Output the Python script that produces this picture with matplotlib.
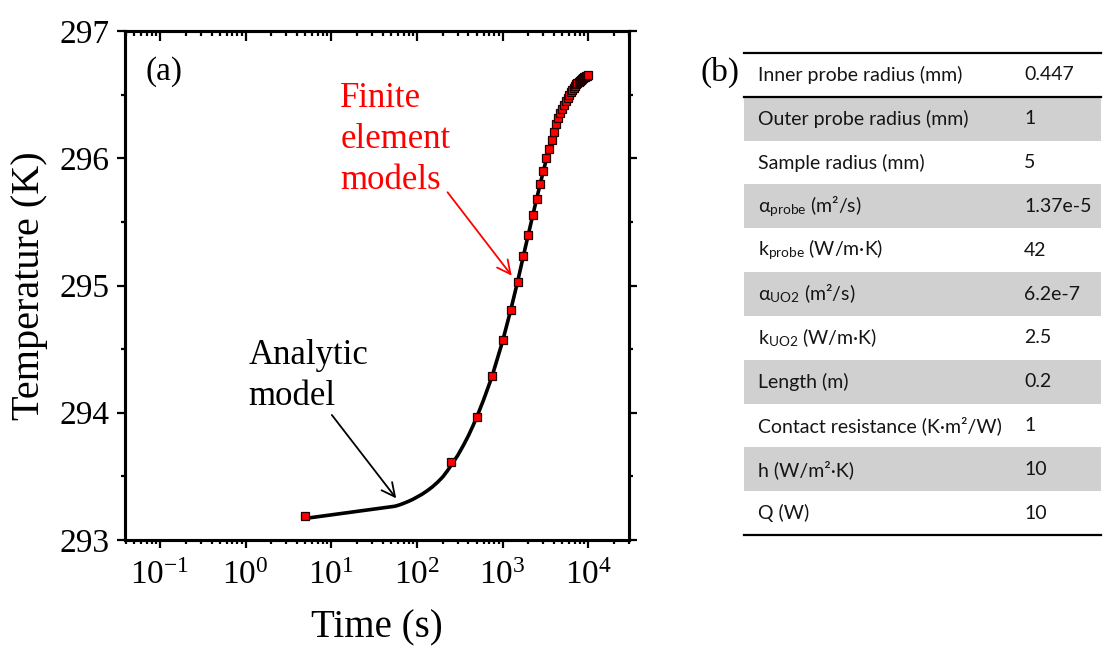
import matplotlib.pyplot as plt
from matplotlib.ticker import MultipleLocator, LogLocator, NullFormatter
from matplotlib.patches import Rectangle

plt.rcParams['font.family'] = 'Liberation Serif'
plt.rcParams['mathtext.fontset'] = 'custom'
plt.rcParams['mathtext.rm'] = 'Liberation Serif'
plt.rcParams['mathtext.it'] = 'Liberation Serif:italic'
plt.rcParams['axes.unicode_minus'] = False

# analytic model
an_time = [5, 55, 60, 65, 70, 80, 90, 100, 115, 130, 150, 175, 200, 225, 250, 300, 350,
           400, 450, 500, 600, 750, 875, 1000, 1250, 1500, 1750, 2000, 2500, 3000, 3500,
           4000, 5000, 6000, 7000, 8000, 9000, 10000]
an_temp = [293.17, 293.265, 293.272, 293.28, 293.288, 293.304, 293.32, 293.337, 293.36,
           293.384, 293.415, 293.455, 293.495, 293.54, 293.585, 293.665, 293.745, 293.82,
           293.895, 293.965, 294.10, 294.28, 294.43, 294.56, 294.81, 295.03, 295.23,
           295.40, 295.68, 295.90, 296.075, 296.21, 296.39, 296.495, 296.57, 296.61,
           296.635, 296.655]

# finite element results
fe_time = [5, 250, 500, 750, 1000, 1250, 1500, 1750, 2000, 2250, 2500, 2750, 3000, 3250,
           3500, 3750, 4000, 4250, 4500, 4750, 5000, 5250, 5500, 5750, 6000, 6250, 6500,
           6750, 7000, 7250, 7500, 7750, 8000, 8250, 8500, 8750, 9000, 9250, 9500, 9750, 10000]
fe_temp = [293.19, 293.61, 293.967, 294.29, 294.57, 294.81, 295.03, 295.23, 295.40, 295.557,
           295.68, 295.80, 295.90, 296.00, 296.075, 296.14, 296.21, 296.27, 296.32, 296.355,
           296.39, 296.42, 296.447, 296.47, 296.495, 296.52, 296.54, 296.555, 296.57, 296.58,
           296.59, 296.60, 296.61, 296.618, 296.625, 296.63, 296.635, 296.64, 296.645,
           296.65, 296.655]

# table (b)
param_names = ['Inner probe radius (mm)', 'Outer probe radius (mm)', 'Sample radius (mm)',
               'α$_{\\mathregular{probe}}$ (m²/s)', 'k$_{\\mathregular{probe}}$ (W/m·K)',
               'α$_{\\mathregular{UO2}}$ (m²/s)', 'k$_{\\mathregular{UO2}}$ (W/m·K)',
               'Length (m)', 'Contact resistance (K·m²/W)', 'h (W/m²·K)', 'Q (W)']
param_values = ['0.447', '1', '5', '1.37e-5', '42', '6.2e-7', '2.5', '0.2', '1', '10', '10']

W, H = 1103, 649
fig = plt.figure(figsize=(W / 100, H / 100), dpi=100)

ax = fig.add_axes([125 / W, 1 - 540 / H, (629 - 125) / W, (540 - 31) / H])
ax.plot(an_time, an_temp, color='black', lw=2.6, zorder=2)
ax.plot(fe_time, fe_temp, ls='none', marker='s', ms=6, mfc='red', mec='#200000',
        mew=0.9, zorder=3)

ax.set_xscale('log')
ax.set_xlim(0.039, 30000)
ax.set_ylim(293, 297)
ax.set_yticks([293, 294, 295, 296, 297])
ax.yaxis.set_minor_locator(MultipleLocator(0.5))
ax.xaxis.set_major_locator(LogLocator(base=10, numticks=12))
ax.xaxis.set_minor_locator(LogLocator(base=10, subs=range(2, 10), numticks=12))
ax.xaxis.set_minor_formatter(NullFormatter())

for s in ax.spines.values():
    s.set_linewidth(2.2)
ax.tick_params(which='both', direction='out', right=True, width=1.6, labelsize=24)
ax.tick_params(axis='y', pad=5)
ax.tick_params(axis='x', pad=9)
ax.tick_params(which='major', length=6)
ax.tick_params(which='minor', length=3)

# top axis ticks point inward
axt = ax.twiny()
axt.set_xscale('log')
axt.set_xlim(ax.get_xlim())
axt.xaxis.set_major_locator(LogLocator(base=10, numticks=12))
axt.xaxis.set_minor_locator(LogLocator(base=10, subs=range(2, 10), numticks=12))
axt.tick_params(which='both', direction='in', labeltop=False, width=1.6)
axt.tick_params(which='major', length=7)
axt.tick_params(which='minor', length=3.5)
for s in axt.spines.values():
    s.set_linewidth(2.2)

ax.set_xlabel('Time (s)', fontsize=28, labelpad=13)
ax.set_ylabel('Temperature (K)', fontsize=29, labelpad=8)

ax.text(0.067, 296.80, '(a)', fontsize=24, va='top', ha='left')
ax.text(12.8, 296.60, 'Finite\nelement\nmodels', fontsize=25, color='red', va='top',
        ha='left', linespacing=1.32)
ax.text(1.08, 294.58, 'Analytic\nmodel', fontsize=25, color='black', va='top',
        ha='left', linespacing=1.32)
ax.annotate('', xy=(1340, 295.06), xytext=(218, 295.75),
            arrowprops=dict(arrowstyle='->', color='red', lw=1.3, mutation_scale=24))
ax.annotate('', xy=(60, 293.31), xytext=(9.7, 294.0),
            arrowprops=dict(arrowstyle='->', color='black', lw=1.3, mutation_scale=24))

fig.text(700 / W, 1 - 72 / H, '(b)', fontsize=24, va='center', ha='left')

tab = fig.add_axes([744 / W, 1 - 535 / H, (1101 - 744) / W, (535 - 53) / H])
tab.set_xlim(0, 1)
tab.set_ylim(len(param_names), 0)
tab.axis('off')
for i, (name, val) in enumerate(zip(param_names, param_values)):
    if i % 2 == 1:
        tab.add_patch(Rectangle((0, i), 1, 1, color='#d0d0d0', lw=0))
    tab.text(0.04, i + 0.5, name, va='center', ha='left', fontsize=14,
             family=['Lato', 'DejaVu Sans'], color='#151515')
    tab.text(0.785, i + 0.5, val, va='center', ha='left', fontsize=14,
             family=['Lato', 'DejaVu Sans'], color='#151515')
for yl in [0, 1, len(param_names)]:
    tab.axhline(yl, color='black', lw=1.6, clip_on=False)

fig.savefig('out.png', dpi=100)
